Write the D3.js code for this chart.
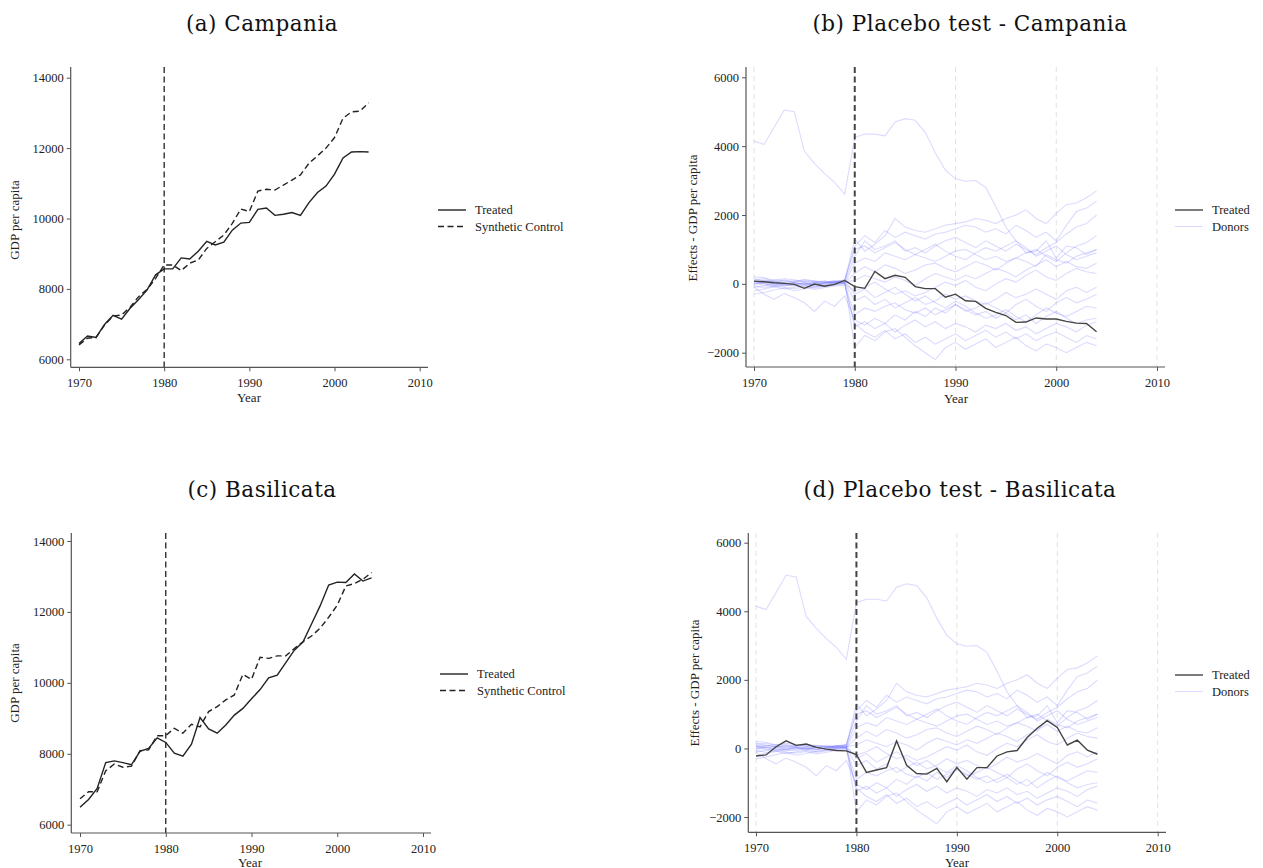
<!DOCTYPE html>
<html>
<head>
<meta charset="utf-8">
<script src="https://cdn.jsdelivr.net/npm/d3@7"></script>
<style>
  body { margin: 0; background: #fff; }
  svg text { font-family: "Liberation Serif", "DejaVu Serif", serif; fill: #222; }
  .title { font-family: "DejaVu Serif", serif; font-size: 21.5px; letter-spacing: 0.5px; fill: #111; }
</style>
</head>
<body>
<svg width="1263" height="868"></svg>
<script>
// years of the panel
let years = d3.range(1970, 2005)

// (a) Campania
let campTreated = [6450,6660,6620,6990,7250,7140,7450,7700,7970,8400,
  8570,8570,8880,8850,9070,9350,9250,9330,9670,9870,
  9890,10260,10300,10090,10120,10170,10090,10450,10740,10920,
  11260,11720,11890,11900,11890]
let campSynth = [6410,6600,6620,6970,7230,7260,7480,7780,7990,8300,
  8680,8680,8520,8730,8820,9150,9340,9530,9860,10270,
  10200,10780,10830,10810,10950,11090,11240,11570,11780,12000,
  12300,12850,13030,13050,13290]

// (c) Basilicata
let basiTreated = [6490,6710,7020,7750,7800,7750,7690,8070,8150,8450,
  8320,8020,7930,8270,9020,8700,8580,8810,9090,9280,
  9550,9810,10140,10220,10570,10920,11150,11660,12170,12760,
  12840,12830,13070,12870,12960]
let basiSynth = [6730,6930,6930,7520,7710,7620,7650,8090,8110,8510,
  8510,8720,8580,8830,8760,9190,9330,9520,9660,10240,
  10100,10720,10690,10760,10760,10970,11160,11320,11540,11850,
  12190,12730,12800,12920,13110]

// placebo effects of the treated units
let campEffect = [80,60,30,15,-15,-130,-5,-70,-15,100,
  -80,-130,360,150,250,190,-80,-140,-140,-390,
  -300,-490,-510,-710,-830,-920,-1120,-1110,-990,-1020,
  -1020,-1090,-1140,-1150,-1390]
let basiEffect = [-220,-190,50,220,90,130,30,-20,-60,-70,
  -180,-700,-630,-560,220,-490,-730,-750,-580,-970,
  -550,-900,-560,-560,-220,-100,-60,320,590,810,
  610,100,240,-50,-170]

// donor placebo effects (same in b and d)
let donors = [
  [4150,4050,4550,5050,5000,3850,3500,3200,2950,2600,4250,4350,4350,4300,4700,4800,4750,4400,3800,3300,3050,2980,3000,2800,2250,1650,1250,900,950,1250,750,1100,1050,850,1000],
  [50,20,-30,0,40,-20,30,60,20,80,1300,950,1150,1400,1900,1650,1550,1500,1600,1700,1750,1800,1900,1850,1750,1900,2000,2150,1900,1750,2050,2300,2350,2500,2700],
  [-100,-60,20,60,30,10,-40,30,70,110,1100,1400,1200,1550,1350,1500,1400,1300,1450,1500,1600,1700,1650,1500,1600,1450,1700,1550,1350,1500,1250,1700,2100,2200,2400],
  [120,150,80,40,90,60,20,-10,40,60,800,1250,1000,1100,1250,950,1050,900,1100,1250,1350,1200,1050,1250,1100,950,1150,1000,850,1050,1200,1450,1650,1750,2000],
  [0,70,120,90,50,100,60,90,40,20,600,750,650,900,800,700,850,750,650,800,950,1000,850,700,800,650,750,900,1000,800,650,900,1100,1200,1400],
  [-200,-150,-90,-40,10,-60,20,50,0,30,300,500,350,550,450,300,400,550,600,450,350,500,650,550,400,600,750,650,500,850,700,600,800,900,1000],
  [80,0,-50,-20,30,-10,50,-30,10,50,100,250,150,50,200,100,-50,150,300,200,100,250,150,300,450,350,200,400,550,700,500,650,500,450,600],
  [-300,-250,-180,-120,-200,-150,-80,-60,-20,0,-200,-100,50,-150,-300,-200,-350,-250,-100,50,-50,100,-100,-200,0,150,50,250,400,200,100,300,450,350,300],
  [200,180,100,150,120,60,90,40,80,30,-500,-350,-600,-450,-700,-550,-400,-600,-500,-300,-450,-350,-500,-600,-450,-250,-400,-300,-150,-300,-450,-200,-100,-250,-100],
  [30,-40,-80,-150,-100,-60,-120,-70,-30,10,-900,-700,-800,-650,-550,-750,-850,-700,-900,-750,-600,-800,-700,-550,-700,-850,-600,-450,-650,-800,-550,-400,-550,-450,-300],
  [-100,-300,-450,-280,-400,-550,-800,-500,-650,-350,-1050,-1200,-1000,-1150,-900,-1050,-800,-950,-700,-850,-600,-750,-900,-800,-1000,-850,-1050,-900,-1150,-950,-800,-1000,-1150,-1050,-1000],
  [60,100,40,-30,-60,-20,-90,-40,30,20,-1250,-1100,-1300,-1150,-1400,-1200,-1050,-1250,-1100,-1300,-1150,-1250,-1400,-1200,-1300,-1150,-1350,-1250,-1450,-1300,-1150,-1250,-1400,-1200,-1100],
  [-50,-120,-60,-100,-140,-90,-160,-110,-60,-40,-1150,-1400,-1550,-1350,-1600,-1450,-1700,-1550,-1750,-1600,-1450,-1650,-1500,-1350,-1550,-1400,-1600,-1450,-1650,-1500,-1400,-1550,-1700,-1500,-1600],
  [150,90,50,110,70,130,80,50,90,60,-1850,-1500,-1650,-1400,-1300,-1550,-1800,-2000,-2200,-1850,-1700,-1900,-1750,-1600,-1850,-1700,-1550,-1800,-1950,-1750,-1850,-2000,-1850,-1700,-1800],
  [-20,30,60,20,-10,40,-30,20,60,90,-300,-150,-400,-250,-100,-300,-500,-350,-550,-700,-500,-650,-850,-1000,-900,-750,-950,-1100,-900,-700,-850,-950,-800,-650,-700],
  [90,40,0,-60,-30,20,-40,10,50,120,1000,1100,900,1050,1200,1000,850,1000,1150,950,800,700,900,1050,950,1100,1250,1050,800,950,1100,850,700,800,900]
]

let yearTicks = [1970, 1980, 1990, 2000, 2010]
let gdpTicks = [6000, 8000, 10000, 12000, 14000]
let effTicks = [-2000, 0, 2000, 4000, 6000]
let treatYear = 1980

let svg = d3.select("svg")

function panel(p) {
  let g = svg.append("g")
  let x = d3.scaleLinear().domain([1970, 2010]).range(p.xr)
  let y = d3.scaleLinear().domain(p.ydom).range(p.yr)

  // light grid lines on placebo panels
  if (p.placebo) {
    g.selectAll(".grid")
      .data(yearTicks.filter(d => d != treatYear))
      .enter().append("line")
      .attr("x1", d => x(d)).attr("x2", d => x(d))
      .attr("y1", p.top).attr("y2", p.bottom)
      .style("stroke", "#e2e2e2").style("stroke-dasharray", "5,4")
  }

  let line = d3.line().x((d, i) => x(years[i])).y(d => y(d))

  if (p.placebo) {
    g.selectAll(".donor")
      .data(donors)
      .enter().append("path")
      .attr("d", line)
      .style("fill", "none")
      .style("stroke", "rgba(90,90,255,0.22)")
      .style("stroke-width", 1.1)
  }

  // treatment year
  g.append("line")
    .attr("x1", x(treatYear)).attr("x2", x(treatYear))
    .attr("y1", p.top).attr("y2", p.bottom)
    .style("stroke", p.placebo ? "#444" : "#222")
    .style("stroke-width", p.placebo ? 2 : 1.3)
    .style("stroke-dasharray", "6,3.5")

  p.series.forEach(s => {
    g.append("path")
      .datum(s.values)
      .attr("d", line)
      .style("fill", "none")
      .style("stroke", s.color)
      .style("stroke-width", 1.4)
      .style("stroke-dasharray", s.dash || null)
  })

  // axes
  let xAxis = d3.axisBottom(x).tickValues(yearTicks).tickSize(4).tickSizeOuter(0).tickPadding(7).tickFormat(d3.format("d"))
  let yAxis = d3.axisLeft(y).tickValues(p.yticks).tickSize(4).tickSizeOuter(0).tickPadding(3).tickFormat(d3.format("d"))

  let gx = g.append("g").attr("transform", "translate(0," + p.bottom + ")").call(xAxis)
  let gy = g.append("g").attr("transform", "translate(" + p.x0 + ",0)").call(yAxis)
  ;[gx, gy].forEach(a => {
    a.select(".domain").remove()
    a.selectAll("line").style("stroke", "#555")
    a.selectAll("text").style("font-size", "12.5px").style("font-family", "Liberation Serif")
  })
  g.append("line").attr("x1", p.x0).attr("x2", p.x1).attr("y1", p.bottom).attr("y2", p.bottom)
    .style("stroke", "#555").style("stroke-width", 1.2)
  g.append("line").attr("x1", p.x0).attr("x2", p.x0).attr("y1", p.top).attr("y2", p.bottom)
    .style("stroke", "#555").style("stroke-width", 1.2)

  // labels
  svg.append("text").attr("class", "title")
    .attr("x", p.titleX).attr("y", p.titleY)
    .attr("text-anchor", "middle").text(p.title)
  svg.append("text")
    .attr("x", p.yearX).attr("y", p.yearY)
    .attr("text-anchor", "middle").style("font-size", "13px").text("Year")
  svg.append("text")
    .attr("transform", "translate(" + p.ylabX + "," + p.ylabY + ") rotate(-90)")
    .attr("text-anchor", "middle").style("font-size", "13px").text(p.ylab)

  // legend
  p.series.forEach((s, i) => {
    let ly = p.legY + i * 16.5
    svg.append("line")
      .attr("x1", p.legX).attr("x2", p.legX + 28).attr("y1", ly).attr("y2", ly)
      .style("stroke", s.color).style("stroke-width", 1.4)
      .style("stroke-dasharray", s.dash || null)
    svg.append("text").attr("x", p.legX + 37).attr("y", ly + 4)
      .style("font-size", "12.5px").text(s.name)
  })
  if (p.placebo) {
    let ly = p.legY + 16.5
    svg.append("line")
      .attr("x1", p.legX).attr("x2", p.legX + 28).attr("y1", ly).attr("y2", ly)
      .style("stroke", "rgba(90,90,255,0.22)").style("stroke-width", 1.1)
    svg.append("text").attr("x", p.legX + 37).attr("y", ly + 4)
      .style("font-size", "12.5px").text("Donors")
  }
}

panel({title: "(a) Campania", titleX: 262, titleY: 31,
  x0: 70.7, x1: 428, top: 67, bottom: 367.3, xr: [79, 419.7], yr: [359.3, 77.7],
  ydom: [6000, 14000], yticks: gdpTicks, ylab: "GDP per capita", ylabX: 19, ylabY: 220,
  yearX: 249, yearY: 402, legX: 438, legY: 210,
  series: [{name: "Treated", values: campTreated, color: "#222"},
           {name: "Synthetic Control", values: campSynth, color: "#222", dash: "6,3.5"}]})

panel({title: "(b) Placebo test - Campania", titleX: 970, titleY: 31, placebo: true,
  x0: 746, x1: 1165, top: 67, bottom: 367, xr: [754, 1157], yr: [352.7, 77.3],
  ydom: [-2000, 6000], yticks: effTicks, ylab: "Effects - GDP per capita", ylabX: 697, ylabY: 218,
  yearX: 956, yearY: 403, legX: 1175, legY: 210,
  series: [{name: "Treated", values: campEffect, color: "#444"}]})

panel({title: "(c) Basilicata", titleX: 262, titleY: 497,
  x0: 71.3, x1: 431, top: 533, bottom: 833, xr: [80, 423], yr: [824.7, 541],
  ydom: [6000, 14000], yticks: gdpTicks, ylab: "GDP per capita", ylabX: 19, ylabY: 683,
  yearX: 250, yearY: 867, legX: 440, legY: 674,
  series: [{name: "Treated", values: basiTreated, color: "#222"},
           {name: "Synthetic Control", values: basiSynth, color: "#222", dash: "6,3.5"}]})

panel({title: "(d) Placebo test - Basilicata", titleX: 960, titleY: 497, placebo: true,
  x0: 748.3, x1: 1166, top: 533, bottom: 832.3, xr: [756, 1157.7], yr: [817, 542.7],
  ydom: [-2000, 6000], yticks: effTicks, ylab: "Effects - GDP per capita", ylabX: 699, ylabY: 683,
  yearX: 957, yearY: 867, legX: 1175, legY: 675,
  series: [{name: "Treated", values: basiEffect, color: "#444"}]})
</script>
</body>
</html>
